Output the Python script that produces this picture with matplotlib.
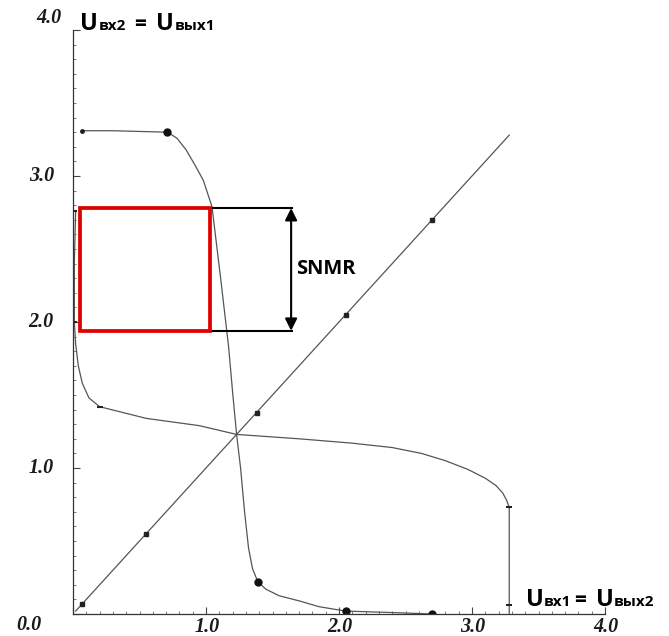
import matplotlib
matplotlib.use("Agg")
import matplotlib.pyplot as plt
from matplotlib.patches import Rectangle
import numpy as np

# ---- data ----
vtc1_x = [0.07, 0.30, 0.71, 0.78, 0.85, 0.92, 0.98, 1.045, 1.11, 1.17, 1.20, 1.23, 1.26, 1.29, 1.32, 1.35, 1.39, 1.45, 1.55, 1.70, 1.85, 2.05, 2.40, 2.70]
vtc1_y = [3.31, 3.31, 3.30, 3.26, 3.18, 3.07, 2.97, 2.79, 2.30, 1.83, 1.52, 1.23, 1.00, 0.70, 0.45, 0.31, 0.22, 0.17, 0.125, 0.09, 0.05, 0.02, 0.01, 0.00]

vtc2_x = [0.02, 0.01, 0.01, 0.02, 0.04, 0.07, 0.12, 0.20, 0.55, 0.95, 1.23, 1.70, 2.10, 2.40, 2.62, 2.80, 2.97, 3.10, 3.18, 3.23, 3.26, 3.28, 3.28, 3.28]
vtc2_y = [2.76, 2.40, 2.00, 1.85, 1.70, 1.58, 1.48, 1.42, 1.34, 1.29, 1.23, 1.20, 1.17, 1.14, 1.10, 1.05, 0.99, 0.93, 0.88, 0.83, 0.78, 0.73, 0.06, 0.00]

diag = [0.02, 3.28]
diag_marks = [0.07, 0.55, 1.38, 2.05, 2.70]

dots1_x = [0.71, 1.39, 2.05, 2.70]
dots1_y = [3.30, 0.22, 0.02, 0.00]
marks2_x = [0.01, 0.01, 0.20, 3.28, 3.28]
marks2_y = [2.76, 2.00, 1.42, 0.73, 0.06]

box_x0, box_x1 = 0.05, 1.03
box_y0, box_y1 = 1.94, 2.78
snm_x = 1.64

tick_vals = [1.0, 2.0, 3.0, 4.0]
tick_labels = ["1.0", "2.0", "3.0", "4.0"]

W, H = 669, 636
fig = plt.figure(figsize=(W / 100, H / 100), dpi=100)
ax = fig.add_axes([73 / W, 22 / H, (605 - 73) / W, (614 - 30) / H])
ax.set_xlim(0, 4)
ax.set_ylim(0, 4)
ax.patch.set_visible(False)
for s in ["top", "right"]:
    ax.spines[s].set_visible(False)
for s in ["left", "bottom"]:
    ax.spines[s].set_color("#333333")
    ax.spines[s].set_linewidth(0.9)

ax.set_xticks(np.arange(0, 4.01, 1.0))
ax.set_yticks(np.arange(0, 4.01, 1.0))
ax.set_xticks(np.arange(0, 4.01, 0.1), minor=True)
ax.set_yticks(np.arange(0, 4.01, 0.1), minor=True)
ax.tick_params(which="major", direction="in", length=5, width=0.8, color="#444444",
               labelbottom=False, labelleft=False)
ax.tick_params(which="minor", direction="in", length=2.5, width=0.6, color="#666666")

lc = "#555555"
ax.plot(diag, diag, color=lc, lw=0.9)
ax.plot(vtc1_x, vtc1_y, color=lc, lw=0.9)
ax.plot(vtc2_x, vtc2_y, color=lc, lw=0.9)
ax.plot(diag_marks, diag_marks, ls="none", marker="s", ms=2.5, color="#222222")
ax.plot(dots1_x, dots1_y, ls="none", marker="o", ms=5, color="#111111")
ax.plot([vtc1_x[0]], [vtc1_y[0]], ls="none", marker="o", ms=2.5, color="#222222")
ax.plot(marks2_x, marks2_y, ls="none", marker="_", ms=5, mew=1.5, color="#222222")

ax.add_patch(Rectangle((box_x0, box_y0), box_x1 - box_x0, box_y1 - box_y0,
                       fill=False, edgecolor="#e00000", lw=2.7, zorder=5))
ax.plot([box_x1, snm_x + 0.01], [box_y1, box_y1], color="black", lw=1.5)
ax.plot([box_x1, snm_x + 0.01], [box_y0, box_y0], color="black", lw=1.5)
ax.annotate("", xy=(snm_x, box_y1), xytext=(snm_x, box_y0),
            arrowprops=dict(arrowstyle="<|-|>", color="black", lw=1.5,
                            mutation_scale=18, shrinkA=0, shrinkB=0))
ax.text(snm_x + 0.04, (box_y0 + box_y1) / 2, "SNMR", fontsize=14.5, fontweight="bold",
        family="Open Sans", ha="left", va="center")

# tick labels (bold italic serif)
tfont = dict(family="Liberation Serif", fontweight="heavy", fontstyle="italic",
             fontsize=14.5, color="#1a1a1a")
for v, lab in zip(tick_vals, tick_labels):
    ax.annotate(lab, xy=(v, 0), xycoords="data", xytext=(1, -13), textcoords="offset pixels",
                ha="center", va="center", **tfont)
for v, lab in zip(tick_vals, tick_labels):
    if v == 4.0:
        off = (-11, 12)
    else:
        off = (-19, 0)
    ax.annotate(lab, xy=(0, v), xycoords="data", xytext=off, textcoords="offset pixels",
                ha="right", va="center", **tfont)
ax.annotate("0.0", xy=(0, 0), xycoords="data", xytext=(-44, -11), textcoords="offset pixels",
            ha="center", va="center", **tfont)


def put(x, y, s, size):
    fig.text(x / W, 1 - y / H, s, fontsize=size, fontweight="bold", family="Open Sans",
             ha="left", va="baseline", color="black")


# top axis label: U_вх2 = U_вых1
put(80, 30, "U", 17)
put(99, 30, "вх2", 11)
put(134, 30, "=", 15)
put(156, 30, "U", 17)
put(175, 30, "вых1", 11)
# bottom-right label: U_вх1 = U_вых2
put(526, 606, "U", 17)
put(544, 606, "вх1", 11)
put(574, 606, "=", 15)
put(596, 606, "U", 17)
put(614, 606, "вых2", 11)

fig.savefig("out.png", dpi=100)
